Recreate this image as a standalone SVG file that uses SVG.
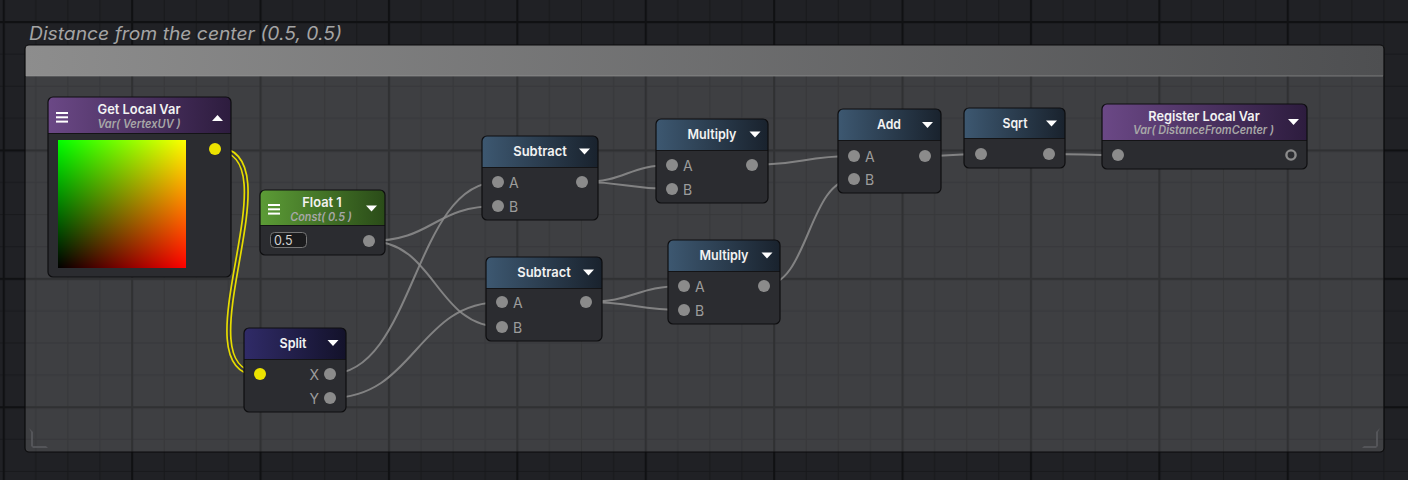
<svg xmlns="http://www.w3.org/2000/svg" width="1408" height="480" viewBox="0 0 1408 480">
<defs>
  <pattern id="grid" patternUnits="userSpaceOnUse" x="2.7" y="21" width="128.4" height="128.4">
    <rect width="128.4" height="128.4" fill="#202125"/>
    <g stroke="#18191c" stroke-width="1.2">
      <line x1="33.1" y1="0" x2="33.1" y2="128.4"/>
      <line x1="65.2" y1="0" x2="65.2" y2="128.4"/>
      <line x1="97.3" y1="0" x2="97.3" y2="128.4"/>
      <line x1="0" y1="33.1" x2="128.4" y2="33.1"/>
      <line x1="0" y1="65.2" x2="128.4" y2="65.2"/>
      <line x1="0" y1="97.3" x2="128.4" y2="97.3"/>
    </g>
    <g stroke="#101113" stroke-width="2.4">
      <line x1="1" y1="0" x2="1" y2="128.4"/>
      <line x1="0" y1="1" x2="128.4" y2="1"/>
    </g>
  </pattern>
  <linearGradient id="gHeadBar" x1="0" x2="1" y1="0" y2="0">
    <stop offset="0" stop-color="#8d8d8d"/>
    <stop offset="1" stop-color="#4e4f51"/>
  </linearGradient>
  <linearGradient id="gPurple" x1="0" x2="1" y1="0" y2="0">
    <stop offset="0" stop-color="#6b4886"/>
    <stop offset="1" stop-color="#2d1c3e"/>
  </linearGradient>
  <linearGradient id="gGreen" x1="0" x2="1" y1="0" y2="0">
    <stop offset="0" stop-color="#5c9c36"/>
    <stop offset="1" stop-color="#2a4b18"/>
  </linearGradient>
  <linearGradient id="gIndigo" x1="0" x2="1" y1="0" y2="0">
    <stop offset="0" stop-color="#302b68"/>
    <stop offset="1" stop-color="#13122a"/>
  </linearGradient>
  <linearGradient id="gBlue" x1="0" x2="1" y1="0" y2="0">
    <stop offset="0" stop-color="#3d5871"/>
    <stop offset="1" stop-color="#19222d"/>
  </linearGradient>
  <linearGradient id="uvR" x1="0" x2="1" y1="0" y2="0">
    <stop offset="0" stop-color="#000000"/>
    <stop offset="1" stop-color="#ff0000"/>
  </linearGradient>
  <linearGradient id="uvG" x1="0" x2="0" y1="0" y2="1">
    <stop offset="0" stop-color="#00ff00"/>
    <stop offset="1" stop-color="#000000"/>
  </linearGradient>
  <style>
    .body { fill: #2b2c30; }
    .border { fill: none; stroke: #0e0e10; stroke-width: 1.2; }
    .sep { stroke: #141416; stroke-width: 1; }
    .title { font-family: Inter, "Liberation Sans", sans-serif; font-size: 13.5px; font-weight: 600; fill: #f2f2f2; text-anchor: middle; }
    .sub { font-family: Inter, "Liberation Sans", sans-serif; font-size: 11.5px; font-weight: 600; font-style: italic; fill: #a7a7a7; text-anchor: middle; }
    .lbl { font-family: Inter, "Liberation Sans", sans-serif; font-size: 14px; fill: #9c9c9c; }
    .port { fill: #8b8b8b; }
    .yport { fill: #ece200; }
    .tri { fill: #ffffff; }
    .ham { fill: #ffffff; }
    .wire { fill: none; stroke: #8e8e8e; stroke-width: 2; stroke-opacity: 0.85; }
  </style>
</defs>

<!-- background grid -->
<rect x="0" y="0" width="1408" height="480" fill="url(#grid)"/>

<!-- group -->
<g id="group">
  <text x="29" y="40" font-family="Inter, 'Liberation Sans', sans-serif" font-size="18" font-style="italic" fill="#a4a4a4" textLength="313" lengthAdjust="spacingAndGlyphs">Distance from the center (0.5, 0.5)</text>
  <rect x="25" y="45" width="1359" height="407" rx="4" fill="#e8e8ec" fill-opacity="0.15"/>
  <path d="M25,76 V49 Q25,45 29,45 H1380 Q1384,45 1384,49 V76 Z" fill="url(#gHeadBar)"/>
  <line x1="26" y1="76" x2="1383" y2="76" stroke="#9a9a9a" stroke-width="1" stroke-opacity="0.6"/>
  <rect x="25" y="45" width="1359" height="407" rx="4" fill="none" stroke="#0b0b0c" stroke-width="1.2"/>
  <path d="M29,428 L31,432 V446 L33,448 H48 L46,446 H33 V432 Z" fill="#5a5b5f" opacity="0.8"/>
  <path d="M1380,428 L1378,432 V446 L1376,448 H1362 L1364,446 H1376 V432 Z" fill="#5a5b5f" opacity="0.8"/>
</g>

<!-- connectors -->
<g id="connectors">
  <path d="M215,149 C300,149 175,374 260,374" fill="none" stroke="#e6dc00" stroke-width="5.4"/>
  <path d="M215,149 C300,149 175,374 260,374" fill="none" stroke="#3a3b3e" stroke-width="2"/>
  <path class="wire" d="M369,241 C434,241 433,206 498,206"/>
  <path class="wire" d="M369,241 C436,241 435,327 502,327"/>
  <path class="wire" d="M330,374 C414,374 414,182 498,182"/>
  <path class="wire" d="M330,398 C416,398 416,302 502,302"/>
  <path class="wire" d="M582,182 C627,182 627,165 672,165"/>
  <path class="wire" d="M582,182 C627,182 627,189 672,189"/>
  <path class="wire" d="M586,302 C635,302 635,286 684,286"/>
  <path class="wire" d="M586,302 C635,302 635,310 684,310"/>
  <path class="wire" d="M752,165 C803,165 803,156 854,156"/>
  <path class="wire" d="M763,286 C809,286 808,179 854,179"/>
  <path class="wire" d="M925,156 C953,156 953,154 981,154"/>
  <path class="wire" d="M1049,154 C1084,154 1083,155 1118,155"/>
</g>

<!-- Get Local Var -->
<g id="node-get-local-var">
  <rect class="body" x="48" y="97" width="183" height="180" rx="5"/>
  <path d="M48,133 V102 Q48,97 53,97 H226 Q231,97 231,102 V133 Z" fill="url(#gPurple)"/>
  <line class="sep" x1="48" y1="133.5" x2="231" y2="133.5"/>
  <rect class="ham" x="56" y="112" width="12" height="2"/>
  <rect class="ham" x="56" y="116.3" width="12" height="2"/>
  <rect class="ham" x="56" y="120.6" width="12" height="2"/>
  <text class="title" x="139" y="114" textLength="83" lengthAdjust="spacingAndGlyphs">Get Local Var</text>
  <text class="sub" x="139" y="128" textLength="83" lengthAdjust="spacingAndGlyphs">Var( VertexUV )</text>
  <path class="tri" d="M212,121 L223,121 L217.5,115 Z"/>
  <g style="isolation:isolate">
    <rect x="58" y="140" width="128" height="128" fill="url(#uvR)"/>
    <rect x="58" y="140" width="128" height="128" fill="url(#uvG)" style="mix-blend-mode:screen"/>
  </g>
  <circle class="yport" cx="215" cy="149" r="6"/>
  <rect class="border" x="48" y="97" width="183" height="180" rx="5"/>
</g>

<!-- Float 1 -->
<g id="node-float1">
  <rect class="body" x="260" y="190" width="125" height="65" rx="5"/>
  <path d="M260,225 V195 Q260,190 265,190 H380 Q385,190 385,195 V225 Z" fill="url(#gGreen)"/>
  <line class="sep" x1="260" y1="225.5" x2="385" y2="225.5"/>
  <rect class="ham" x="268" y="204" width="12" height="2"/>
  <rect class="ham" x="268" y="208.3" width="12" height="2"/>
  <rect class="ham" x="268" y="212.6" width="12" height="2"/>
  <text class="title" x="322" y="206.5" textLength="39.5" lengthAdjust="spacingAndGlyphs">Float 1</text>
  <text class="sub" x="321" y="220.5" textLength="61.5" lengthAdjust="spacingAndGlyphs">Const( 0.5 )</text>
  <path class="tri" d="M366,205.5 L377,205.5 L371.5,211.5 Z"/>
  <rect x="270.5" y="232.5" width="36" height="15" rx="4" fill="#1b1b1d" stroke="#767676" stroke-width="1"/>
  <text x="274" y="244.5" font-family="Inter, 'Liberation Sans', sans-serif" font-size="12.5" fill="#d4d4d4">0.5</text>
  <circle class="port" cx="369" cy="241" r="6"/>
  <rect class="border" x="260" y="190" width="125" height="65" rx="5"/>
</g>

<!-- Split -->
<g id="node-split">
  <rect class="body" x="244" y="328" width="102" height="84" rx="5"/>
  <path d="M244,359 V333 Q244,328 249,328 H341 Q346,328 346,333 V359 Z" fill="url(#gIndigo)"/>
  <line class="sep" x1="244" y1="359.5" x2="346" y2="359.5"/>
  <text class="title" x="293" y="348" textLength="27" lengthAdjust="spacingAndGlyphs">Split</text>
  <path class="tri" d="M327.5,340 L338.5,340 L333,346 Z"/>
  <circle class="yport" cx="260" cy="374" r="6"/>
  <text class="lbl" x="319" y="380" text-anchor="end">X</text>
  <circle class="port" cx="330" cy="374" r="6"/>
  <text class="lbl" x="319" y="404" text-anchor="end">Y</text>
  <circle class="port" cx="330" cy="398" r="6"/>
  <rect class="border" x="244" y="328" width="102" height="84" rx="5"/>
</g>

<!-- Subtract 1 -->
<g id="node-subtract1">
  <rect class="body" x="482" y="136" width="116" height="84" rx="5"/>
  <path d="M482,167 V141 Q482,136 487,136 H593 Q598,136 598,141 V167 Z" fill="url(#gBlue)"/>
  <line class="sep" x1="482" y1="167.5" x2="598" y2="167.5"/>
  <text class="title" x="540" y="156" textLength="53.5" lengthAdjust="spacingAndGlyphs">Subtract</text>
  <path class="tri" d="M579,148.5 L590,148.5 L584.5,154.5 Z"/>
  <circle class="port" cx="498" cy="182" r="6"/>
  <text class="lbl" x="509" y="188">A</text>
  <circle class="port" cx="498" cy="206" r="6"/>
  <text class="lbl" x="509" y="212">B</text>
  <circle class="port" cx="582" cy="182" r="6"/>
  <rect class="border" x="482" y="136" width="116" height="84" rx="5"/>
</g>

<!-- Multiply 1 -->
<g id="node-multiply1">
  <rect class="body" x="656" y="119" width="112" height="84" rx="5"/>
  <path d="M656,150 V124 Q656,119 661,119 H763 Q768,119 768,124 V150 Z" fill="url(#gBlue)"/>
  <line class="sep" x1="656" y1="150.5" x2="768" y2="150.5"/>
  <text class="title" x="712" y="139" textLength="49" lengthAdjust="spacingAndGlyphs">Multiply</text>
  <path class="tri" d="M749.5,131.5 L760.5,131.5 L755,137.5 Z"/>
  <circle class="port" cx="672" cy="165" r="6"/>
  <text class="lbl" x="683" y="171">A</text>
  <circle class="port" cx="672" cy="189" r="6"/>
  <text class="lbl" x="683" y="195">B</text>
  <circle class="port" cx="752" cy="165" r="6"/>
  <rect class="border" x="656" y="119" width="112" height="84" rx="5"/>
</g>

<!-- Subtract 2 -->
<g id="node-subtract2">
  <rect class="body" x="486" y="257" width="116" height="84" rx="5"/>
  <path d="M486,288 V262 Q486,257 491,257 H597 Q602,257 602,262 V288 Z" fill="url(#gBlue)"/>
  <line class="sep" x1="486" y1="288.5" x2="602" y2="288.5"/>
  <text class="title" x="544" y="277" textLength="53.5" lengthAdjust="spacingAndGlyphs">Subtract</text>
  <path class="tri" d="M583,269.5 L594,269.5 L588.5,275.5 Z"/>
  <circle class="port" cx="502" cy="302" r="6"/>
  <text class="lbl" x="513" y="308">A</text>
  <circle class="port" cx="502" cy="327" r="6"/>
  <text class="lbl" x="513" y="333">B</text>
  <circle class="port" cx="586" cy="302" r="6"/>
  <rect class="border" x="486" y="257" width="116" height="84" rx="5"/>
</g>

<!-- Multiply 2 -->
<g id="node-multiply2">
  <rect class="body" x="668" y="240" width="112" height="84" rx="5"/>
  <path d="M668,271 V245 Q668,240 673,240 H775 Q780,240 780,245 V271 Z" fill="url(#gBlue)"/>
  <line class="sep" x1="668" y1="271.5" x2="780" y2="271.5"/>
  <text class="title" x="724" y="260" textLength="49" lengthAdjust="spacingAndGlyphs">Multiply</text>
  <path class="tri" d="M761.5,252.5 L772.5,252.5 L767,258.5 Z"/>
  <circle class="port" cx="684" cy="286" r="6"/>
  <text class="lbl" x="695" y="292">A</text>
  <circle class="port" cx="684" cy="310" r="6"/>
  <text class="lbl" x="695" y="316">B</text>
  <circle class="port" cx="764" cy="286" r="6"/>
  <rect class="border" x="668" y="240" width="112" height="84" rx="5"/>
</g>

<!-- Add -->
<g id="node-add">
  <rect class="body" x="838" y="109" width="103" height="84" rx="5"/>
  <path d="M838,140 V114 Q838,109 843,109 H936 Q941,109 941,114 V140 Z" fill="url(#gBlue)"/>
  <line class="sep" x1="838" y1="140.5" x2="941" y2="140.5"/>
  <text class="title" x="889" y="129" textLength="24" lengthAdjust="spacingAndGlyphs">Add</text>
  <path class="tri" d="M922,122 L933,122 L927.5,128 Z"/>
  <circle class="port" cx="854" cy="156" r="6"/>
  <text class="lbl" x="865" y="162">A</text>
  <circle class="port" cx="854" cy="179" r="6"/>
  <text class="lbl" x="865" y="185">B</text>
  <circle class="port" cx="925" cy="156" r="6"/>
  <rect class="border" x="838" y="109" width="103" height="84" rx="5"/>
</g>

<!-- Sqrt -->
<g id="node-sqrt">
  <rect class="body" x="964" y="108" width="101" height="60" rx="5"/>
  <path d="M964,138 V113 Q964,108 969,108 H1060 Q1065,108 1065,113 V138 Z" fill="url(#gBlue)"/>
  <line class="sep" x1="964" y1="138.5" x2="1065" y2="138.5"/>
  <text class="title" x="1015" y="127.5" textLength="25" lengthAdjust="spacingAndGlyphs">Sqrt</text>
  <path class="tri" d="M1046,120.5 L1057,120.5 L1051.5,126.5 Z"/>
  <circle class="port" cx="981" cy="154" r="6"/>
  <circle class="port" cx="1049" cy="154" r="6"/>
  <rect class="border" x="964" y="108" width="101" height="60" rx="5"/>
</g>

<!-- Register Local Var -->
<g id="node-register-local-var">
  <rect class="body" x="1102" y="104" width="205" height="65" rx="5"/>
  <path d="M1102,140 V109 Q1102,104 1107,104 H1302 Q1307,104 1307,109 V140 Z" fill="url(#gPurple)"/>
  <line class="sep" x1="1102" y1="140.5" x2="1307" y2="140.5"/>
  <text class="title" x="1204" y="120.5" textLength="111.5" lengthAdjust="spacingAndGlyphs">Register Local Var</text>
  <text class="sub" x="1203.5" y="134" textLength="141" lengthAdjust="spacingAndGlyphs">Var( DistanceFromCenter )</text>
  <path class="tri" d="M1288,119 L1299,119 L1293.5,125 Z"/>
  <circle class="port" cx="1118" cy="155" r="6"/>
  <circle cx="1291" cy="155" r="4.6" fill="none" stroke="#8b8b8b" stroke-width="2.4"/>
  <rect class="border" x="1102" y="104" width="205" height="65" rx="5"/>
</g>
</svg>
